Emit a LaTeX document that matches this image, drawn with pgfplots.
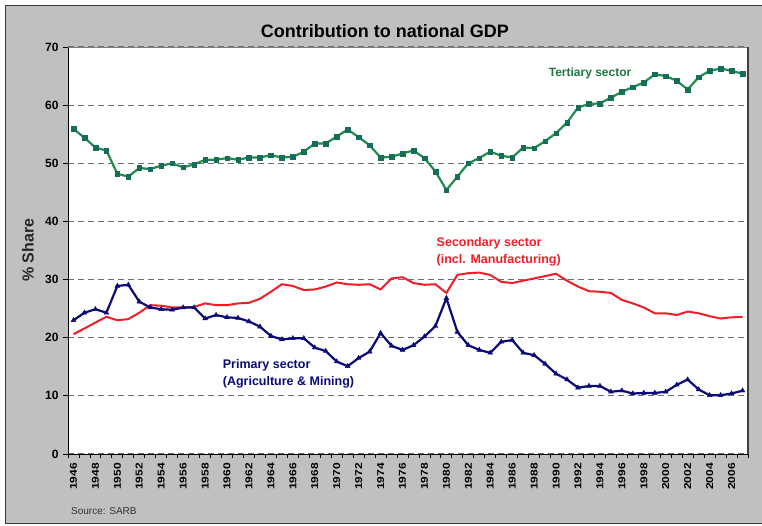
\documentclass[border=0pt]{standalone}
\usepackage{pgfplots}
\usepackage{pgfplotstable}
\pgfplotsset{compat=1.18}
\usepackage{fontspec}
\setmainfont{Liberation Sans}
\definecolor{panelgray}{RGB}{192,192,192}
\definecolor{tgreen}{RGB}{35,140,75}
\definecolor{tmark}{RGB}{20,110,90}
\definecolor{sred}{RGB}{240,30,40}
\definecolor{pnavy}{RGB}{10,10,120}
\definecolor{gridgray}{RGB}{110,110,110}

\pgfplotstableread{
year tert sec prim
1946 55.9 20.6 23.0
1947 54.4 21.6 24.3
1948 52.7 22.6 24.9
1949 52.2 23.6 24.3
1950 48.2 23.0 28.9
1951 47.7 23.2 29.1
1952 49.2 24.3 26.2
1953 49.0 25.6 25.2
1954 49.6 25.5 24.9
1955 50.0 25.2 24.8
1956 49.3 25.2 25.2
1957 49.8 25.3 25.2
1958 50.6 25.9 23.3
1959 50.6 25.6 23.9
1960 50.9 25.6 23.5
1961 50.6 25.9 23.4
1962 51.0 26.0 22.8
1963 51.0 26.7 21.9
1964 51.4 27.9 20.3
1965 51.0 29.2 19.7
1966 51.1 28.9 19.9
1967 52.0 28.2 19.9
1968 53.4 28.3 18.3
1969 53.4 28.8 17.7
1970 54.6 29.5 15.9
1971 55.8 29.2 15.1
1972 54.5 29.1 16.5
1973 53.1 29.2 17.6
1974 51.0 28.3 20.8
1975 51.1 30.2 18.6
1976 51.7 30.4 17.9
1977 52.2 29.4 18.7
1978 50.9 29.1 20.2
1979 48.6 29.2 22.0
1980 45.4 27.7 26.8
1981 47.7 30.8 21.0
1982 50.0 31.1 18.7
1983 50.9 31.2 17.9
1984 52.0 30.8 17.4
1985 51.3 29.6 19.3
1986 51.0 29.4 19.6
1987 52.7 29.8 17.4
1988 52.6 30.2 17.0
1989 53.8 30.6 15.5
1990 55.2 31.0 13.8
1991 57.0 29.8 12.8
1992 59.6 28.8 11.4
1993 60.2 28.0 11.7
1994 60.3 27.9 11.7
1995 61.3 27.7 10.7
1996 62.3 26.5 10.9
1997 63.1 25.9 10.4
1998 63.9 25.2 10.5
1999 65.3 24.2 10.5
2000 65.0 24.2 10.7
2001 64.2 23.9 11.9
2002 62.7 24.5 12.8
2003 64.8 24.2 11.1
2004 65.9 23.7 10.1
2005 66.3 23.3 10.1
2006 65.9 23.5 10.4
2007 65.4 23.6 10.9
}\gdpdata

\begin{document}
\begin{tikzpicture}
\useasboundingbox (0,0) rectangle (762pt,525pt);
\fill[white] (0,0) rectangle (762pt,525pt);
\filldraw[fill=panelgray, draw=gray!45!black, line width=1pt] (5.5pt,2pt) rectangle (775pt,519.5pt);
\begin{axis}[
  at={(68pt,71pt)}, anchor=south west,
  width=680pt, height=407pt, scale only axis,
  xmin=1945.5, xmax=2007.5, ymin=0, ymax=70,
  axis background/.style={fill=white},
  axis lines*=left,
  axis line style={black, line width=1pt},
  /pgf/number format/assume math mode=true,
  /pgf/number format/1000 sep={},
  ytick={0,10,...,70},
  xtick={1946,1948,...,2006},
  minor xtick={1945.5,1946.5,...,2007.5},
  tick align=outside,
  major tick length=5pt,
  minor tick length=4pt,
  major x tick style={draw=none},
  minor x tick style={black, line width=0.8pt},
  ytick style={black, line width=0.8pt},
  ymajorgrids,
  grid style={gridgray, line width=1.2pt, dash pattern=on 6pt off 4pt},
  yticklabel style={font=\bfseries\fontsize{12}{12}\selectfont, xshift=-1pt},
  xticklabel style={rotate=90, anchor=east, xscale=1.2, font=\bfseries\fontsize{10}{10}\selectfont},
  title={Contribution to national GDP},
  title style={at={(axis description cs:0.466,1.024)}, anchor=center, font=\bfseries\fontsize{18}{18}\selectfont},
  ylabel={\% Share},
  ylabel style={at={(axis description cs:-0.0588,0.501)}, anchor=center, rotate=0, text=black!85, font=\bfseries\fontsize{16}{16}\selectfont},
  clip=false,
]
\addplot[color=sred, line width=2pt, no marks] table[x=year, y=sec] {\gdpdata};
\addplot[color=pnavy, line width=2.2pt, mark=triangle*, mark size=2.8pt, mark options={fill=pnavy, draw=pnavy, line width=0.4pt}] table[x=year, y=prim] {\gdpdata};
\addplot[color=tgreen, line width=2.2pt, mark=square*, mark size=2.3pt, mark options={fill=tmark, draw=tmark, line width=0.4pt}] table[x=year, y=tert] {\gdpdata};
\draw[gray, line width=1pt] (rel axis cs:0,1) -- (rel axis cs:1,1);
\draw[black!75, line width=2pt] (rel axis cs:1,0) -- (rel axis cs:1,1);
\node[text=tgreen!85!black, font=\bfseries\fontsize{12}{12}\selectfont, anchor=center] at (axis cs:1993.1,65.5) {Tertiary sector};
\node[text=sred, font=\bfseries\fontsize{12.5}{17}\selectfont, anchor=west, align=left, inner sep=0pt] at (axis cs:1979.1,34.75) {Secondary sector\\(incl. Manufacturing)};
\node[text=pnavy, font=\bfseries\fontsize{12.5}{17}\selectfont, anchor=west, align=left, inner sep=0pt] at (axis cs:1959.6,13.8) {Primary sector\\(Agriculture \& Mining)};
\node[font=\fontsize{10}{10}\selectfont, anchor=west, inner sep=0pt, text=black!80] at (axis description cs:0.0044,-0.140) {Source: SARB};
\end{axis}
\end{tikzpicture}
\end{document}
